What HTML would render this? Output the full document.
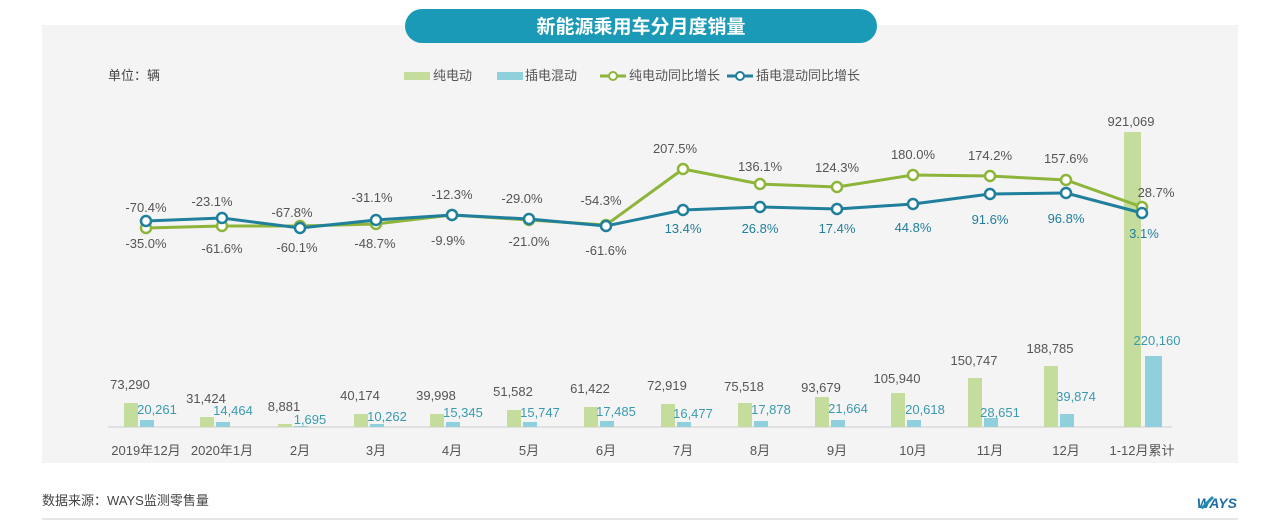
<!DOCTYPE html>
<html><head><meta charset="utf-8"><style>
body{margin:0;width:1280px;height:521px;background:#fff;overflow:hidden;font-family:"Liberation Sans","Noto Sans CJK SC",sans-serif;}
</style></head><body>
<svg width="1280" height="521" xmlns="http://www.w3.org/2000/svg" font-family="Liberation Sans, Noto Sans CJK SC, sans-serif">
<rect x="42" y="25" width="1196" height="438" fill="#f4f4f4"/>
<rect x="405" y="9" width="472" height="34" rx="17" fill="#1b9ab7"/>
<text x="641" y="33" text-anchor="middle" font-size="19" font-weight="bold" fill="#fff">新能源乘用车分月度销量</text>
<text x="108" y="80" font-size="13" fill="#444">单位：辆</text>
<rect x="404" y="72" width="26" height="8" fill="#c5dd9c"/><text x="433" y="80" font-size="13" fill="#555">纯电动</text>
<rect x="497" y="72" width="26" height="8" fill="#8fd0dc"/><text x="525" y="80" font-size="13" fill="#555">插电混动</text>
<line x1="600" y1="76" x2="626" y2="76" stroke="#8db53a" stroke-width="3"/><circle cx="613" cy="76" r="4" fill="#fff" stroke="#8db53a" stroke-width="2"/><text x="629" y="80" font-size="13" fill="#555">纯电动同比增长</text>
<line x1="727" y1="76" x2="753" y2="76" stroke="#1f7f9c" stroke-width="3"/><circle cx="740" cy="76" r="4" fill="#fff" stroke="#1f7f9c" stroke-width="2"/><text x="756" y="80" font-size="13" fill="#555">插电混动同比增长</text>
<line x1="108" y1="427" x2="1172" y2="427" stroke="#ccc"/>
<g fill="#c5dd9c">
<rect x="124" y="403" width="14" height="24"/><rect x="200" y="417" width="14" height="10"/><rect x="278" y="424" width="14" height="3"/><rect x="354" y="414" width="14" height="13"/><rect x="430" y="414" width="14" height="13"/><rect x="507" y="410" width="14" height="17"/><rect x="584" y="407" width="14" height="20"/><rect x="661" y="404" width="14" height="23"/><rect x="738" y="403" width="14" height="24"/><rect x="815" y="397" width="14" height="30"/><rect x="891" y="393" width="14" height="34"/><rect x="968" y="378" width="14" height="49"/><rect x="1044" y="366" width="14" height="61"/><rect x="1124" y="132" width="17" height="295"/>
</g>
<g fill="#8fd0dc">
<rect x="140" y="420" width="14" height="7"/><rect x="216" y="422" width="14" height="5"/><rect x="294" y="426" width="14" height="1"/><rect x="370" y="424" width="14" height="3"/><rect x="446" y="422" width="14" height="5"/><rect x="523" y="422" width="14" height="5"/><rect x="600" y="421" width="14" height="6"/><rect x="677" y="422" width="14" height="5"/><rect x="754" y="421" width="14" height="6"/><rect x="831" y="420" width="14" height="7"/><rect x="907" y="420" width="14" height="7"/><rect x="984" y="418" width="14" height="9"/><rect x="1060" y="414" width="14" height="13"/><rect x="1145" y="356" width="17" height="71"/>
</g>
<g font-size="13" fill="#555" text-anchor="middle">
<text x="130" y="389">73,290</text><text x="206" y="403">31,424</text><text x="284" y="411">8,881</text><text x="360" y="400">40,174</text><text x="436" y="400">39,998</text><text x="513" y="396">51,582</text><text x="590" y="393">61,422</text><text x="667" y="390">72,919</text><text x="744" y="391">75,518</text><text x="821" y="392">93,679</text><text x="897" y="383">105,940</text><text x="974" y="365">150,747</text><text x="1050" y="353">188,785</text><text x="1131" y="126">921,069</text>
</g>
<g font-size="13" fill="#3a9bb0" text-anchor="middle">
<text x="157" y="414">20,261</text><text x="233" y="415">14,464</text><text x="310" y="424">1,695</text><text x="387" y="421">10,262</text><text x="463" y="417">15,345</text><text x="540" y="417">15,747</text><text x="616" y="416">17,485</text><text x="693" y="418">16,477</text><text x="771" y="414">17,878</text><text x="848" y="413">21,664</text><text x="925" y="414">20,618</text><text x="1000" y="417">28,651</text><text x="1076" y="401">39,874</text><text x="1157" y="345">220,160</text>
</g>
<g font-size="13" fill="#555" text-anchor="middle">
<text x="146" y="455">2019年12月</text><text x="222" y="455">2020年1月</text><text x="300" y="455">2月</text><text x="376" y="455">3月</text><text x="452" y="455">4月</text><text x="529" y="455">5月</text><text x="606" y="455">6月</text><text x="683" y="455">7月</text><text x="760" y="455">8月</text><text x="837" y="455">9月</text><text x="913" y="455">10月</text><text x="990" y="455">11月</text><text x="1066" y="455">12月</text><text x="1142" y="455">1-12月累计</text>
</g>
<polyline fill="none" stroke="#8db53a" stroke-width="3" points="146,228 222,226 300,226 376,224 452,215 529,220 606,225 683,169 760,184 837,187 913,175 990,176 1066,180 1142,207"/>
<polyline fill="none" stroke="#1f7f9c" stroke-width="3" points="146,221 222,218 300,228 376,220 452,215 529,219 606,226 683,210 760,207 837,209 913,204 990,194 1066,193 1142,213"/>
<g fill="#fff" stroke="#8db53a" stroke-width="2.5">
<circle cx="146" cy="228" r="5"/><circle cx="222" cy="226" r="5"/><circle cx="300" cy="226" r="5"/><circle cx="376" cy="224" r="5"/><circle cx="452" cy="215" r="5"/><circle cx="529" cy="220" r="5"/><circle cx="606" cy="225" r="5"/><circle cx="683" cy="169" r="5"/><circle cx="760" cy="184" r="5"/><circle cx="837" cy="187" r="5"/><circle cx="913" cy="175" r="5"/><circle cx="990" cy="176" r="5"/><circle cx="1066" cy="180" r="5"/><circle cx="1142" cy="207" r="5"/>
</g>
<g fill="#fff" stroke="#1f7f9c" stroke-width="2.5">
<circle cx="146" cy="221" r="5"/><circle cx="222" cy="218" r="5"/><circle cx="300" cy="228" r="5"/><circle cx="376" cy="220" r="5"/><circle cx="452" cy="215" r="5"/><circle cx="529" cy="219" r="5"/><circle cx="606" cy="226" r="5"/><circle cx="683" cy="210" r="5"/><circle cx="760" cy="207" r="5"/><circle cx="837" cy="209" r="5"/><circle cx="913" cy="204" r="5"/><circle cx="990" cy="194" r="5"/><circle cx="1066" cy="193" r="5"/><circle cx="1142" cy="213" r="5"/>
</g>
<g font-size="13" fill="#555" text-anchor="middle">
<text x="146" y="212">-70.4%</text><text x="212" y="206">-23.1%</text><text x="292" y="217">-67.8%</text><text x="372" y="202">-31.1%</text><text x="452" y="199">-12.3%</text><text x="522" y="203">-29.0%</text><text x="601" y="205">-54.3%</text><text x="675" y="153">207.5%</text><text x="760" y="171">136.1%</text><text x="837" y="172">124.3%</text><text x="913" y="159">180.0%</text><text x="990" y="160">174.2%</text><text x="1066" y="163">157.6%</text><text x="1156" y="197">28.7%</text>
</g>
<g font-size="13" fill="#555" text-anchor="middle">
<text x="146" y="248">-35.0%</text><text x="222" y="253">-61.6%</text><text x="297" y="252">-60.1%</text><text x="375" y="248">-48.7%</text><text x="448" y="245">-9.9%</text><text x="529" y="246">-21.0%</text><text x="606" y="255">-61.6%</text>
</g>
<g font-size="13" fill="#1f7f9c" text-anchor="middle">
<text x="683" y="233">13.4%</text><text x="760" y="233">26.8%</text><text x="837" y="233">17.4%</text><text x="913" y="232">44.8%</text><text x="990" y="224">91.6%</text><text x="1066" y="223">96.8%</text><text x="1144" y="238">3.1%</text>
</g>
<text x="42" y="505" font-size="13" fill="#444">数据来源：WAYS监测零售量</text>
<text x="1237" y="508" font-size="14" font-weight="bold" font-style="italic" fill="#1f6fa5" text-anchor="end">WAYS</text>
<path d="M1200 508 L1212 496 L1214 498 L1203 509 Z" fill="#1f8fb5"/>
<line x1="42" y1="519" x2="1238" y2="519" stroke="#ccc"/>
</svg>
</body></html>
